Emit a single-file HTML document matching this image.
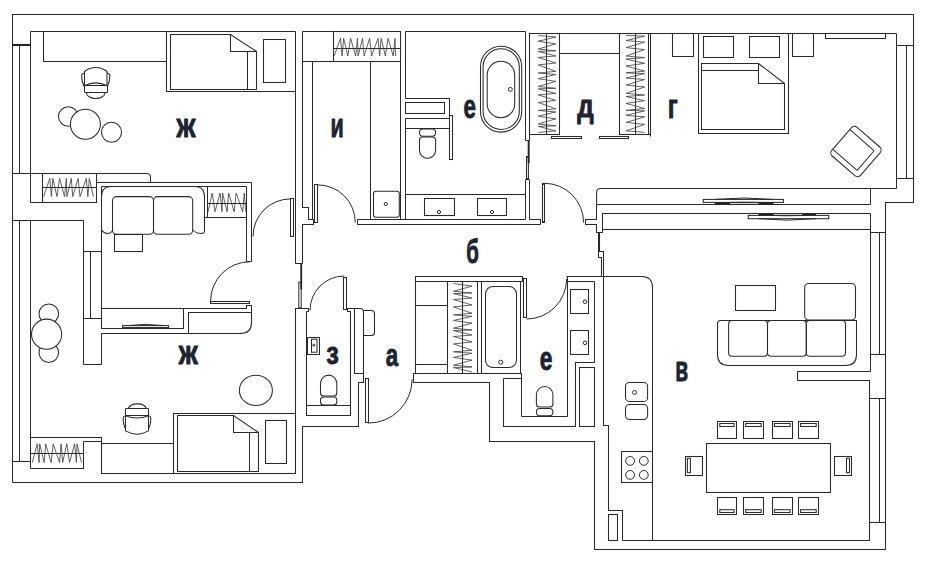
<!DOCTYPE html>
<html><head><meta charset="utf-8"><style>
html,body{margin:0;padding:0;background:#fff;}
svg{display:block;}
.w line,.w polyline,.w polygon,.w rect,.w circle,.w ellipse,.w path{fill:none;stroke:#2a2a2a;stroke-width:1.05;}
.w .thin{stroke-width:1;}
.w .zz{stroke:#444;stroke-width:0.85;}
.w .thick{stroke-width:2;}
.w .fw{fill:#fff;}
text{font-family:"Liberation Sans",sans-serif;font-weight:bold;fill:#1e2330;stroke:#1e2330;stroke-width:0.9px;stroke-linejoin:round;}
</style></head><body>
<svg width="926" height="564" viewBox="0 0 926 564">
<g class="w">
<polyline points="12.5,482.5 12.5,14.5 913.5,14.5 913.5,202.5 885.5,202.5 885.5,549.5 594.5,549.5 594.5,441.5 489.5,441.5 489.5,382.5 413.5,382.5 413.5,373.5"/>
<polyline points="12.5,482.5 302.5,482.5 302.5,426.5 358.5,426.5 358.5,382.5 363.5,382.5 363.5,311.5"/>
<path d="M346.5,308.5 H360 Q363.5,308.5 363.5,312"/>
<polyline points="354.5,308.5 354.5,373.5 363.5,373.5"/>
<line x1="30.5" y1="31.5" x2="295.5" y2="31.5"/>
<line x1="30.5" y1="31.5" x2="30.5" y2="202.5"/>
<rect x="12" y="44" width="19" height="2" style="fill:#222;stroke:none"/>
<line x1="19.5" y1="45.5" x2="19.5" y2="173.5"/>
<path d="M12.5,173.5 H146.5 Q150.5,173.5 150.5,177.5 V182.5"/>
<polyline points="43.5,31.5 43.5,61.5 166.5,61.5"/>
<polyline points="166.5,31.5 166.5,91.5 295.5,91.5"/>
<polygon points="170.5,34.5 230.5,34.5 256.5,51.5 256.5,89.5 170.5,89.5"/>
<polyline points="230.5,34.5 230.5,51.5 256.5,51.5"/>
<line x1="247.5" y1="51.5" x2="247.5" y2="89.5"/>
<rect x="263.5" y="39.5" width="22" height="43"/>
<circle cx="68.3" cy="116.5" r="9.8"/>
<circle cx="111.5" cy="132.3" r="10"/>
<circle cx="85.4" cy="124.3" r="15" class="fw"/>
<rect x="42.5" y="173.5" width="54" height="29"/>
<line x1="42.5" y1="187.5" x2="96.5" y2="187.5"/>
<line x1="30.5" y1="202.5" x2="42.5" y2="202.5"/>
<line x1="96.5" y1="182.5" x2="251.5" y2="182.5"/>
<line x1="101.5" y1="186.5" x2="246.5" y2="186.5"/>
<line x1="101.5" y1="186.5" x2="101.5" y2="328.5"/>
<line x1="101.5" y1="333.5" x2="101.5" y2="364.5"/>
<line x1="251.5" y1="182.5" x2="251.5" y2="261.5"/>
<line x1="246.5" y1="186.5" x2="246.5" y2="261.5"/>
<line x1="246.5" y1="261.5" x2="251.5" y2="261.5"/>
<line x1="12.5" y1="220.5" x2="83.5" y2="220.5"/>
<line x1="83.5" y1="220.5" x2="83.5" y2="364.5"/>
<line x1="83.5" y1="364.5" x2="101.5" y2="364.5"/>
<line x1="83.5" y1="251.5" x2="101.5" y2="251.5"/>
<line x1="83.5" y1="318.5" x2="101.5" y2="318.5"/>
<line x1="90.5" y1="251.5" x2="90.5" y2="318.5"/>
<line x1="19.5" y1="220.5" x2="19.5" y2="461.5"/>
<line x1="12.5" y1="461.5" x2="30.5" y2="461.5"/>
<line x1="30.5" y1="220.5" x2="30.5" y2="468.5"/>
<line x1="295.5" y1="31.5" x2="295.5" y2="263.5"/>
<line x1="295.5" y1="263.5" x2="302.5" y2="263.5"/>
<polyline points="302.5,31.5 302.5,207.5 308.5,207.5 308.5,219.5 313.5,219.5"/>
<line x1="312.5" y1="61.5" x2="312.5" y2="219.5"/>
<polyline points="313.5,219.5 313.5,224.5 302.5,224.5 302.5,263.5"/>
<rect x="300.3" y="263" width="1.8" height="26.3" style="fill:#222;stroke:none"/>
<rect x="298.8" y="282.1" width="2.4" height="25.6" class="thin"/>
<rect x="290.5" y="198.5" width="3" height="38"/>
<path d="M290.5,198.9 A37.5,37.5 0 0 0 253,236.4" class="thin"/>
<rect x="210.5" y="301.5" width="39" height="2"/>
<path d="M210.6,301 A39.2,39.2 0 0 1 249.8,261.8" class="thin"/>
<line x1="302.5" y1="31.5" x2="400.5" y2="31.5"/>
<rect x="333.5" y="31.5" width="67" height="30"/>
<line x1="333.5" y1="48.5" x2="400.5" y2="48.5"/>
<line x1="302.5" y1="61.5" x2="333.5" y2="61.5"/>
<line x1="370.5" y1="61.5" x2="370.5" y2="219.5"/>
<line x1="400.5" y1="31.5" x2="400.5" y2="219.5"/>
<rect x="314.5" y="184.5" width="3" height="38"/>
<path d="M317.7,184.9 A37.6,37.6 0 0 1 355.3,222.5" class="thin"/>
<rect x="373.5" y="191.3" width="25.8" height="25.9" rx="2.5"/>
<circle cx="385.8" cy="204" r="1.6" class="thin"/>
<polyline points="357.5,219.5 357.5,224.5 540.5,224.5"/>
<line x1="357.5" y1="219.5" x2="525.5" y2="219.5"/>
<polyline points="529.5,219.5 540.5,219.5 540.5,224.5"/>
<line x1="405.5" y1="31.5" x2="525.5" y2="31.5"/>
<line x1="405.5" y1="31.5" x2="405.5" y2="98.5"/>
<line x1="405.5" y1="102.5" x2="405.5" y2="113.5"/>
<line x1="405.5" y1="118.5" x2="405.5" y2="219.5"/>
<line x1="525.5" y1="31.5" x2="525.5" y2="140.5"/>
<polyline points="405.5,98.5 449.5,98.5 449.5,118.5"/>
<rect x="405.5" y="102.5" width="39" height="11"/>
<line x1="405.5" y1="118.5" x2="449.5" y2="118.5"/>
<line x1="405.5" y1="128.5" x2="449.5" y2="128.5"/>
<rect x="449.5" y="115.5" width="3" height="44"/>
<rect x="419.5" y="129" width="16.1" height="7.2" rx="3.5"/>
<path d="M419.5,140 Q419.5,137 422.5,137 H432.6 Q435.6,137 435.6,140 V150.2 A8.05,8.1 0 0 1 419.5,150.2 Z"/>
<line x1="405.5" y1="194.5" x2="525.5" y2="194.5"/>
<rect x="424.5" y="198.5" width="30" height="17"/>
<circle cx="439" cy="212" r="1.6" class="thin"/>
<rect x="477.5" y="198.5" width="29" height="17"/>
<circle cx="492" cy="212" r="1.6" class="thin"/>
<rect x="480.5" y="46.2" width="41.2" height="85.9" rx="20.6"/>
<rect x="483.1" y="48.8" width="36.2" height="80.7" rx="18.1"/>
<rect x="487.2" y="61.3" width="27.5" height="56.4" rx="13.7"/>
<circle cx="510.3" cy="89.4" r="2" class="thin"/>
<line x1="525.5" y1="179.5" x2="525.5" y2="219.5"/>
<line x1="529.5" y1="179.5" x2="529.5" y2="219.5"/>
<line x1="525.5" y1="179.5" x2="529.5" y2="179.5"/>
<line x1="528.7" y1="140.2" x2="528.7" y2="163.3" class="thick"/>
<rect x="526.5" y="156.6" width="1.9" height="22.4"/>
<line x1="525.5" y1="140.5" x2="528.5" y2="140.5"/>
<rect x="542.5" y="183.5" width="2" height="39"/>
<path d="M544.4,183.3 A39.2,39.2 0 0 1 583.6,222.5" class="thin"/>
<line x1="529.5" y1="33.5" x2="896.5" y2="33.5"/>
<line x1="529.5" y1="33.5" x2="529.5" y2="140.5"/>
<line x1="528.5" y1="140.5" x2="529.5" y2="140.5"/>
<rect x="529.5" y="33.5" width="30" height="101"/>
<line x1="546.5" y1="33.5" x2="546.5" y2="134.5"/>
<line x1="559.5" y1="53.5" x2="619.5" y2="53.5"/>
<rect x="619.5" y="33.5" width="29" height="101"/>
<line x1="635.5" y1="33.5" x2="635.5" y2="134.5"/>
<line x1="650.5" y1="33.5" x2="650.5" y2="136.5"/>
<line x1="648.5" y1="134.5" x2="650.5" y2="134.5"/>
<rect x="551.5" y="136.5" width="30" height="2"/>
<rect x="599.5" y="136.5" width="29" height="2"/>
<rect x="672.5" y="33.5" width="21" height="23"/>
<polyline points="698.5,33.5 698.5,133.5 788.5,133.5 788.5,33.5"/>
<rect x="703.5" y="36.5" width="30" height="21"/>
<rect x="749.5" y="36.5" width="30" height="21"/>
<polygon points="701.5,63.5 758.5,63.5 784.5,83.5 784.5,129.5 701.5,129.5"/>
<line x1="701.5" y1="70.5" x2="758.5" y2="70.5"/>
<polyline points="758.5,63.5 758.5,83.5 784.5,83.5"/>
<rect x="792.5" y="33.5" width="21" height="23"/>
<rect x="825.5" y="33.5" width="60" height="5"/>
<line x1="896.5" y1="33.5" x2="896.5" y2="188.5"/>
<line x1="896.5" y1="45.5" x2="913.5" y2="45.5"/>
<line x1="906.5" y1="45.5" x2="906.5" y2="178.5"/>
<line x1="896.5" y1="178.5" x2="913.5" y2="178.5"/>
<g transform="translate(856,151.5) rotate(41)"><rect x="-19" y="-19" width="38" height="38" rx="4"/><path d="M-18.5,-12.5 H12.5 Q13.2,-12.5 13.2,-11.8 V12.8 Q13.2,13.5 12.5,13.5 H-18.5" class="thin"/></g>
<path d="M596.6,204.4 V192.4 Q596.6,188.4 600.6,188.4 H896.5"/>
<line x1="596.5" y1="204.5" x2="870.5" y2="204.5"/>
<line x1="870.5" y1="188.5" x2="870.5" y2="204.5"/>
<path d="M714.7,202.5 Q744,201 773.6,202.5 V204 H714.7 Z" style="fill:#222;stroke:none"/><rect x="730" y="202.6" width="28.5" height="1.2" style="fill:#fff;stroke:none"/>
<rect x="703.3" y="199.4" width="80.1" height="3"/>
<path d="M714.7,199.4 Q744,196.6 773.6,199.4" class="thin"/>
<polyline points="596.5,204.5 596.5,219.5 585.5,219.5 585.5,224.5 596.5,224.5 596.5,232.5 602.5,232.5 602.5,213.5 870.5,213.5"/>
<line x1="602.5" y1="229.5" x2="870.5" y2="229.5"/>
<path d="M758.5,214 H816 V215.4 Q787,217 758.5,215.4 Z" style="fill:#222;stroke:none"/><rect x="773.6" y="214.1" width="28.7" height="1.1" style="fill:#fff;stroke:none"/>
<rect x="748.2" y="215.4" width="80.6" height="3.3"/>
<path d="M758.5,218.7 Q787,221.6 816,218.7" class="thin"/>
<line x1="870.5" y1="213.5" x2="870.5" y2="371.5"/>
<line x1="870.5" y1="232.5" x2="885.5" y2="232.5"/>
<line x1="879.5" y1="232.5" x2="879.5" y2="354.5"/>
<line x1="870.5" y1="354.5" x2="885.5" y2="354.5"/>
<polyline points="870.5,371.5 797.5,371.5 797.5,380.5 869.5,380.5 869.5,540.5 622.5,540.5"/>
<line x1="869.5" y1="398.5" x2="885.5" y2="398.5"/>
<line x1="879.5" y1="398.5" x2="879.5" y2="522.5"/>
<line x1="869.5" y1="522.5" x2="885.5" y2="522.5"/>
<polyline points="598.5,232.5 598.5,257.5 601.5,257.5 601.5,276.5"/>
<polyline points="599.5,232.5 599.5,251.5 603.5,251.5 603.5,425.5 608.5,425.5 608.5,510.5 622.5,510.5 622.5,540.5"/>
<path d="M566.5,276.5 H641.5 Q652.5,276.5 652.5,287.5 V540.5"/>
<rect x="625.5" y="382.4" width="22.1" height="19" rx="4"/>
<circle cx="634.6" cy="392.4" r="2" class="thin"/>
<rect x="625.5" y="404.4" width="22.1" height="15.1" rx="4"/>
<rect x="621.5" y="451.5" width="31" height="31"/>
<circle cx="630.1" cy="460.9" r="4.4" class="thin"/>
<circle cx="630.1" cy="474.9" r="4.4" class="thin"/>
<circle cx="643.8" cy="460.9" r="4.4" class="thin"/>
<circle cx="643.8" cy="474.9" r="4.4" class="thin"/>
<rect x="608.5" y="514.5" width="9" height="26"/>
<rect x="735.5" y="285.5" width="40" height="25"/>
<rect x="804.7" y="283.4" width="50.8" height="36.7" rx="4"/>
<path d="M720.5,320.5 H856.5 V354.5 Q856.5,365.5 845.5,365.5 H728.5 Q717.5,365.5 717.5,354.5 V323.5 Q717.5,320.5 720.5,320.5 Z"/>
<rect x="728.6" y="320.5" width="38.9" height="35.7" rx="3.5"/>
<rect x="767.5" y="320.5" width="38.8" height="35.7" rx="3.5"/>
<rect x="806.3" y="320.5" width="39.2" height="35.7" rx="3.5"/>
<rect x="706.5" y="443.5" width="124" height="49"/>
<rect x="717.5" y="421.5" width="19" height="17"/>
<rect x="719.8" y="423.5" width="14.3" height="3"/>
<rect x="717.5" y="497.5" width="19" height="17"/>
<rect x="719.8" y="509.7" width="14.3" height="2.8"/>
<rect x="743.5" y="421.5" width="20" height="17"/>
<rect x="745.7" y="423.5" width="15.5" height="3"/>
<rect x="743.5" y="497.5" width="20" height="17"/>
<rect x="745.7" y="509.7" width="15.5" height="2.8"/>
<rect x="772.5" y="421.5" width="20" height="17"/>
<rect x="774.4" y="423.5" width="15.7" height="3"/>
<rect x="772.5" y="497.5" width="20" height="17"/>
<rect x="774.4" y="509.7" width="15.7" height="2.8"/>
<rect x="798.5" y="421.5" width="20" height="17"/>
<rect x="800.6" y="423.5" width="15.6" height="3"/>
<rect x="798.5" y="497.5" width="20" height="17"/>
<rect x="800.6" y="509.7" width="15.6" height="2.8"/>
<rect x="685.5" y="456.5" width="17" height="19"/>
<rect x="687.4" y="458.3" width="3" height="14.4"/>
<rect x="834.5" y="456.5" width="17" height="19"/>
<rect x="846.5" y="458.3" width="3" height="14.4"/>
<polyline points="415.5,373.5 415.5,276.5 522.5,276.5 522.5,281.5"/>
<line x1="415.5" y1="281.5" x2="522.5" y2="281.5"/>
<line x1="520.5" y1="281.5" x2="520.5" y2="373.5"/>
<line x1="447.5" y1="281.5" x2="447.5" y2="373.5"/>
<line x1="462.5" y1="281.5" x2="462.5" y2="373.5"/>
<line x1="477.5" y1="281.5" x2="477.5" y2="373.5"/>
<line x1="481.5" y1="281.5" x2="481.5" y2="373.5"/>
<line x1="415.5" y1="305.5" x2="447.5" y2="305.5"/>
<line x1="415.5" y1="364.5" x2="447.5" y2="364.5"/>
<rect x="485.5" y="286.5" width="31" height="81" rx="7.5"/>
<circle cx="500.7" cy="362.2" r="2" class="thin"/>
<rect x="523.5" y="278.5" width="3" height="39"/>
<path d="M526.6,319 A40,40 0 0 0 566.6,279" class="thin"/>
<line x1="413.5" y1="382.5" x2="413.5" y2="373.5"/>
<line x1="413.5" y1="373.5" x2="521.5" y2="373.5"/>
<line x1="521.5" y1="373.5" x2="521.5" y2="416.5"/>
<polyline points="503.5,378.5 521.5,378.5"/>
<polyline points="503.5,378.5 503.5,426.5 575.5,426.5 575.5,362.5 594.5,362.5"/>
<line x1="521.5" y1="416.5" x2="567.5" y2="416.5"/>
<line x1="567.5" y1="276.5" x2="567.5" y2="416.5"/>
<line x1="567.5" y1="281.5" x2="594.5" y2="281.5"/>
<line x1="594.5" y1="281.5" x2="594.5" y2="362.5"/>
<rect x="570.5" y="289.5" width="18" height="24"/>
<circle cx="585" cy="301.7" r="1.8" class="thin"/>
<rect x="570.5" y="330.5" width="18" height="24"/>
<circle cx="585" cy="342.8" r="1.8" class="thin"/>
<rect x="579.5" y="367.5" width="15" height="59"/>
<path d="M536.4,404 V394.6 A8.25,8.2 0 0 1 552.9,394.6 V404 Q552.9,407 549.9,407 H539.4 Q536.4,407 536.4,404 Z"/>
<rect x="536.4" y="408.4" width="16.5" height="7.3" rx="3.5"/>
<polyline points="306.5,311.5 306.5,415.5 350.5,415.5 350.5,311.5 347.5,311.5 347.5,308.5"/>
<line x1="306.5" y1="405.5" x2="350.5" y2="405.5"/>
<rect x="307.5" y="337.5" width="12" height="17"/>
<rect x="311.5" y="339.2" width="5.5" height="13" class="thin"/>
<circle cx="313.8" cy="345.2" r="1" class="thin"/>
<path d="M320.5,393 V383.3 A8.15,8.2 0 0 1 336.8,383.3 V393 Q336.8,396 333.8,396 H323.5 Q320.5,396 320.5,393 Z"/>
<rect x="320.5" y="397" width="16.3" height="8.1" rx="3"/>
<polyline points="295.5,473.5 295.5,308.5 308.5,308.5 308.5,311.5 306.5,311.5"/>
<rect x="343.5" y="277.5" width="3" height="32"/>
<path d="M344.3,276 A34.3,34.3 0 0 0 310,310.3" class="thin"/>
<path d="M363.5,310.5 H371.5 Q374.5,310.5 374.5,313.5 V332.5 Q374.5,335.5 371.5,335.5 H363.5"/>
<rect x="365.5" y="378.5" width="3" height="44"/>
<path d="M368.3,423.1 A43.8,43.8 0 0 0 412.1,379.3" class="thin"/>
<circle cx="48.8" cy="313.7" r="9.8"/>
<circle cx="48.8" cy="352.6" r="9.8"/>
<circle cx="46.6" cy="334.2" r="15.1" class="fw"/>
<rect x="101.5" y="308.5" width="82" height="20"/>
<rect x="122.6" y="325.6" width="46" height="2"/>
<path d="M127,325.6 Q145.6,323.2 164,325.6" class="thin"/>
<line x1="122.6" y1="328.2" x2="168.6" y2="328.2" class="thin"/>
<polyline points="183.5,308.5 246.5,308.5 246.5,305.5 251.5,305.5 251.5,323.5"/>
<path d="M251.5,322.5 Q251.5,333.5 240.5,333.5 H101.5"/>
<polyline points="188.5,333.5 188.5,312.5 251.5,312.5"/>
<ellipse cx="255.9" cy="390.4" rx="16.5" ry="15.1"/>
<polyline points="30.5,437.5 101.5,437.5 101.5,473.5 173.5,473.5"/>
<polyline points="30.5,468.5 83.5,468.5 83.5,441.5"/>
<line x1="30.5" y1="453.5" x2="83.5" y2="453.5"/>
<line x1="83.5" y1="441.5" x2="101.5" y2="441.5"/>
<line x1="101.5" y1="443.5" x2="173.5" y2="443.5"/>
<rect x="173.5" y="413.5" width="122" height="60"/>
<polygon points="177.5,415.5 233.5,415.5 258.5,432.5 258.5,471.5 177.5,471.5"/>
<polyline points="233.5,415.5 233.5,432.5 258.5,432.5"/>
<line x1="249.5" y1="432.5" x2="249.5" y2="471.5"/>
<rect x="265.5" y="420.5" width="21" height="43"/>
<polyline points="334.1,56 340.52,38.3 342.13,56 343.63,38.3 347.84,56 350.55,38.3 355.67,56 357.48,38.3 358.08,56 362.59,38.3 364.1,56 369.62,38.3 371.62,56 378.04,38.3 379.65,56 381.15,38.3 385.37,56 388.08,38.3 393.19,56 395,38.3 395.6,56" class="zz"/>
<polyline points="43.6,196.6 49.84,178.4 51.4,196.6 52.86,178.4 56.95,196.6 59.58,178.4 64.55,196.6 66.31,178.4 66.89,196.6 71.28,178.4 72.74,196.6 78.1,178.4 80.05,196.6 86.29,178.4 87.85,196.6 89.31,178.4 93.4,196.6" class="zz"/>
<polyline points="208,211.8 212.24,193 214.97,211.8 220.13,193 221.95,211.8 222.55,193 227.1,211.8 228.62,193 234.18,211.8 236.2,193 242.67,211.8 244.28,193 245.8,211.8" class="zz"/>
<polyline points="32.2,462.6 37.29,443.8 39.09,462.6 39.68,443.8 44.18,462.6 45.67,443.8 51.16,462.6 53.16,443.8 59.54,462.6 61.14,443.8 62.64,462.6 66.83,443.8 69.52,462.6 74.61,443.8 76.41,462.6 77.01,443.8 81.5,462.6" class="zz"/>
<polyline points="538.3,35.5 555.8,37 538.3,41.21 555.8,43.92 538.3,49.03 555.8,50.83 538.3,51.43 555.8,55.94 538.3,57.45 555.8,62.96 538.3,64.96 555.8,71.37 538.3,72.98 555.8,74.48 538.3,78.69 555.8,81.39 538.3,86.51 555.8,88.31 538.3,88.91 555.8,93.42 538.3,94.92 555.8,100.43 538.3,102.44 555.8,108.85 538.3,110.45 555.8,111.96 538.3,116.17 555.8,118.87 538.3,123.98 555.8,125.79 538.3,126.39 555.8,130.9 538.3,132.4" class="zz"/>
<polyline points="626.1,35.5 644.6,36.1 626.1,40.6 644.6,42.1 626.1,47.6 644.6,49.6 626.1,56 644.6,57.6 626.1,59.1 644.6,63.3 626.1,66 644.6,71.1 626.1,72.9 644.6,73.5 626.1,78 644.6,79.5 626.1,85 644.6,87 626.1,93.4 644.6,95 626.1,96.5 644.6,100.7 626.1,103.4 644.6,108.5 626.1,110.3 644.6,110.9 626.1,115.4 644.6,116.9 626.1,122.4 644.6,124.4 626.1,130.8 644.6,132.4" class="zz"/>
<polyline points="453.5,283.5 472,286.17 453.5,291.21 472,292.99 453.5,293.59 472,298.04 453.5,299.52 472,304.96 453.5,306.94 472,313.26 453.5,314.85 472,316.33 453.5,320.48 472,323.15 453.5,328.19 472,329.97 453.5,330.57 472,335.02 453.5,336.5 472,341.94 453.5,343.92 472,350.25 453.5,351.83 472,353.31 453.5,357.46 472,360.13 453.5,365.18 472,366.96 453.5,367.55 472,372" class="zz"/>
<line x1="207.5" y1="203.5" x2="246.5" y2="203.5"/>
<g class="thin"><path d="M84.5,86 V71.5 A17.9,17.9 0 0 1 107,71.5 V86"/><path d="M84.5,85.8 A24.4,24.4 0 0 1 107,85.8"/><rect x="84.5" y="85.5" width="23" height="7" rx="0.8"/><path d="M86.3,92.5 A9.4,6 0 0 0 105.2,92.5"/><path d="M84.5,73.3 Q81.8,73.5 81.6,75.5 Q81.6,82 84.2,86.5 M107,73.3 Q109.7,73.5 109.9,75.5 Q109.9,82 107.3,86.5"/></g>
<g class="thin"><path d="M128.3,408.5 A9.3,6 0 0 1 146.4,408.5"/><rect x="125.5" y="408.5" width="23" height="7" rx="0.8"/><path d="M125.5,415.7 A30.4,30.4 0 0 0 148.5,415.7"/><path d="M125.5,415.5 V430.9 A23.2,23.2 0 0 0 148.5,430.9 V415.5"/><path d="M125.5,415.8 Q123.2,416.2 123.2,418 Q123.2,425 125.6,429 M148.5,415.8 Q150.8,416.2 150.8,418 Q150.8,425 148.4,429"/></g>
<path d="M101.5,196.5 Q101.5,186.5 111.5,186.5 M194.5,186.5 Q204.5,186.5 204.5,196.5 V231 Q204.5,233.5 201,233.5 Q196,233.5 193,230 M101.5,230 Q104,233.5 107.5,233.5 Q111,233.5 112.8,230"/>
<line x1="207.5" y1="186.5" x2="207.5" y2="217.5"/>
<line x1="204.5" y1="217.5" x2="246.5" y2="217.5"/>
<rect x="112.5" y="196.6" width="41" height="37.6" rx="4"/>
<rect x="153.5" y="196.6" width="39.2" height="37.6" rx="4"/>
<rect x="114.5" y="234.5" width="28" height="17"/>
</g>
<text transform="translate(176.42,136.58) scale(0.799,1)" font-size="33.58">ж</text>
<text transform="translate(330.55,136.58) scale(0.644,1)" font-size="33.58">и</text>
<text transform="translate(463.55,118.24) scale(0.660,1)" font-size="33.82">е</text>
<text transform="translate(577.25,117.06) scale(0.818,1)" font-size="31.64">д</text>
<text transform="translate(667.75,117.88) scale(0.716,1)" font-size="33.58">г</text>
<text transform="translate(466.25,262.86) scale(0.621,1)" font-size="32.74">б</text>
<text transform="translate(178.82,364.08) scale(0.809,1)" font-size="33.21">ж</text>
<text transform="translate(326.15,363.78) scale(0.806,1)" font-size="31.27">з</text>
<text transform="translate(385.85,365.77) scale(0.696,1)" font-size="32.00">а</text>
<text transform="translate(539.85,369.76) scale(0.698,1)" font-size="32.73">е</text>
<text transform="translate(675.15,380.78) scale(0.611,1)" font-size="34.34">в</text>
</svg>
</body></html>
